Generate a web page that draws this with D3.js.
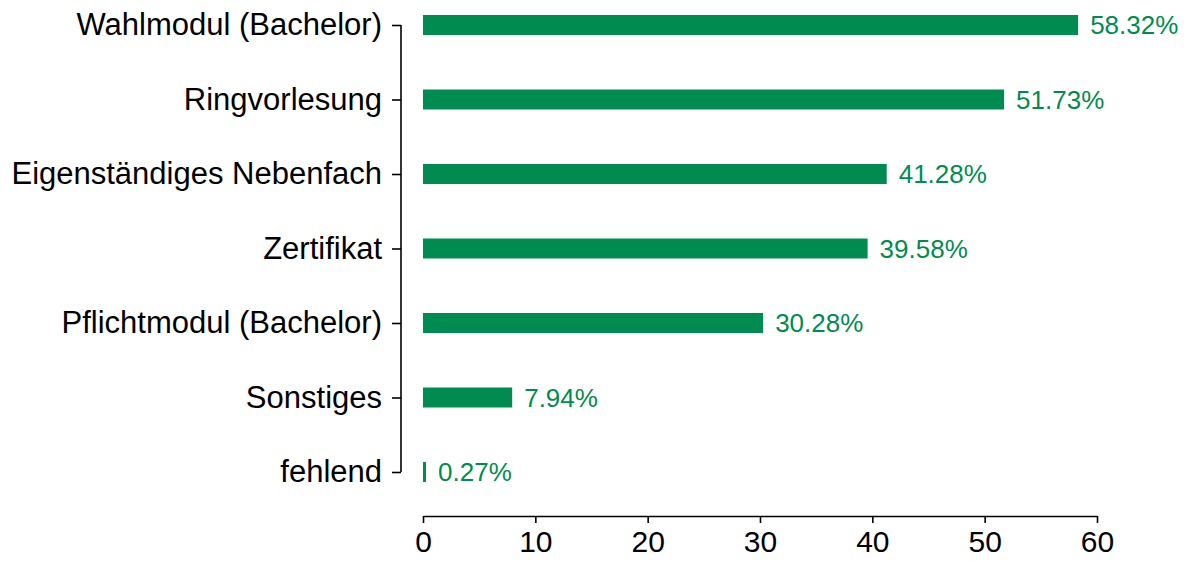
<!DOCTYPE html>
<html>
<head>
<meta charset="utf-8">
<script src="https://cdn.jsdelivr.net/npm/d3@7"></script>
<style>
  body { margin: 0; background: #fff; }
  svg { display: block; font-family: "Liberation Sans", Arial, sans-serif; }
  .axis path, .axis line { stroke: #000; stroke-width: 1.6; }
  .axis text { fill: #000; }
</style>
</head>
<body>
<div id="chart"></div>
<script>
// data
const categories = ['Wahlmodul (Bachelor)', 'Ringvorlesung', 'Eigenständiges Nebenfach', 'Zertifikat', 'Pflichtmodul (Bachelor)', 'Sonstiges', 'fehlend'];
const values = [58.32, 51.73, 41.28, 39.58, 30.28, 7.94, 0.27];
const xTicks = [0, 10, 20, 30, 40, 50, 60];

const WIDTH = 1189;
const HEIGHT = 561;
const GREEN = '#008c50';
const BAR_H = 20;

const $svg = d3.select('#chart').append('svg')
  .attr('width', WIDTH)
  .attr('height', HEIGHT);

const scaleX = d3.scaleLinear().domain([0, 60]).range([423, 1097]);
const scaleY = d3.scalePoint().domain(categories).range([25, 472]);

// y axis (left, offset from the bars)
const $yAxis = $svg.append('g')
  .attr('class', 'axis axis--y')
  .attr('transform', 'translate(401, 0)')
  .call(d3.axisLeft(scaleY).tickSize(9).tickPadding(10).tickSizeOuter(0));
$yAxis.select('.domain').attr('d', `M0,${scaleY.range()[0]}V${scaleY.range()[1]}`);
$yAxis.selectAll('text').style('font-size', '31px');

// x axis
const $xAxis = $svg.append('g')
  .attr('class', 'axis axis--x')
  .attr('transform', 'translate(0, 516)')
  .call(d3.axisBottom(scaleX).tickValues(xTicks).tickSize(7).tickPadding(8).tickSizeOuter(0));
$xAxis.selectAll('text').style('font-size', '30px');

// bars
const rows = categories.map((c, i) => ({ key: c, value: values[i] }));

$svg.append('g').selectAll('rect')
  .data(rows)
  .join('rect')
  .attr('x', scaleX(0))
  .attr('y', d => scaleY(d.key) - BAR_H / 2)
  .attr('width', d => scaleX(d.value) - scaleX(0))
  .attr('height', BAR_H)
  .attr('fill', GREEN);

$svg.append('g').selectAll('text')
  .data(rows)
  .join('text')
  .attr('x', d => scaleX(d.value) + 12)
  .attr('y', d => scaleY(d.key))
  .attr('dy', '0.35em')
  .attr('fill', GREEN)
  .style('font-size', '26px')
  .text(d => `${d.value.toFixed(2)}%`);
</script>
</body>
</html>
